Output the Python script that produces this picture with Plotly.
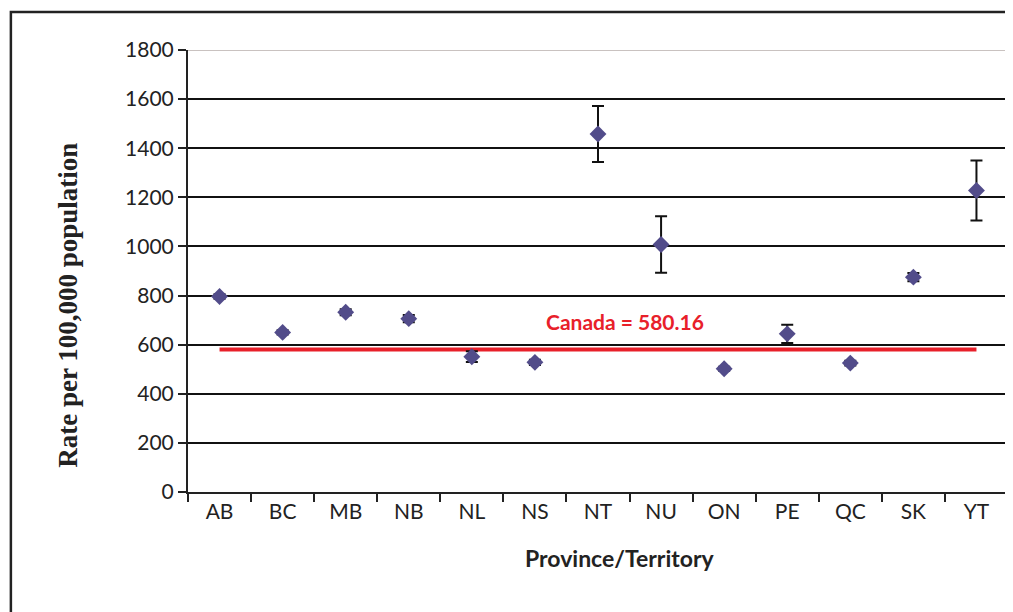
import plotly.graph_objects as go

provinces = ["AB", "BC", "MB", "NB", "NL", "NS", "NT", "NU", "ON", "PE", "QC", "SK", "YT"]
rates = [796, 650, 732, 706, 551, 528, 1458, 1008, 502, 644, 525, 875, 1228]
errors = [9, 9, 12, 15, 22, 11, 114, 115, 8, 37, 10, 17, 122]
canada_rate = 580.16
canada_label = "Canada = 580.16"
y_ticks = [0, 200, 400, 600, 800, 1000, 1200, 1400, 1600, 1800]

TICK_FONT = dict(family="Lato, Open Sans, sans-serif", size=21, color="#222222")

fig = go.Figure()

fig.add_trace(go.Scatter(
    x=[provinces[0], provinces[-1]], y=[canada_rate, canada_rate],
    mode="lines", line=dict(color="#E8202A", width=4),
    hoverinfo="skip", showlegend=False,
))

fig.add_trace(go.Scatter(
    x=provinces, y=rates, mode="markers",
    marker=dict(symbol="diamond", size=13, color="#524C8A"),
    error_y=dict(type="data", array=errors, visible=True, color="#111111",
                 thickness=2, width=6),
    showlegend=False,
))

fig.update_layout(
    width=1005, height=604,
    margin=dict(l=180, r=5, t=42, b=120, autoexpand=False),
    paper_bgcolor="white", plot_bgcolor="white",
    xaxis=dict(
        type="category", range=[-0.5, 12.5],
        categoryorder="array", categoryarray=provinces,
        showgrid=False, showline=True, linecolor="#222222", linewidth=2,
        ticks="outside", tickson="boundaries", ticklen=8, tickwidth=2,
        tickcolor="#222222", tickfont=TICK_FONT, automargin=False,
    ),
    yaxis=dict(
        range=[0, 1800], tickvals=y_ticks,
        showgrid=True, gridcolor="#111111", gridwidth=2,
        showline=True, linecolor="#222222", linewidth=2,
        ticks="outside", ticklen=8, tickwidth=2, tickcolor="#222222",
        tickfont=TICK_FONT, zeroline=False, automargin=False,
    ),
    shapes=[
        dict(type="line", xref="paper", yref="y", x0=0, x1=1, y0=1800, y1=1800,
             line=dict(color="#C9C2C0", width=2), layer="above"),
        dict(type="line", xref="paper", yref="paper", x0=1, x1=1, y0=0, y1=1,
             line=dict(color="#C9C2C0", width=2), layer="above"),
        dict(type="rect", xref="paper", yref="paper",
             x0=-0.216, x1=1.05, y0=-0.35, y1=1.086,
             line=dict(color="#222222", width=2.5), layer="above"),
    ],
    annotations=[
        dict(text="<b>" + canada_label + "</b>", xref="paper", yref="y",
             x=0.533, y=696, showarrow=False,
             font=dict(family="Lato, Open Sans, sans-serif", size=21, color="#E8202A")),
        dict(text="<b>Province/Territory</b>", xref="paper", yref="paper",
             x=0.527, y=-0.15, showarrow=False, yanchor="middle",
             font=dict(family="Lato, Open Sans, sans-serif", size=23, color="#222222")),
        dict(text="<b>Rate per 100,000 population</b>", xref="paper", yref="paper",
             x=-0.146, y=0.422, showarrow=False, textangle=-90,
             xanchor="center", yanchor="middle",
             font=dict(family="Liberation Serif, Times New Roman, serif", size=27,
                       color="#222222")),
    ],
)

fig.write_html("out.html")
